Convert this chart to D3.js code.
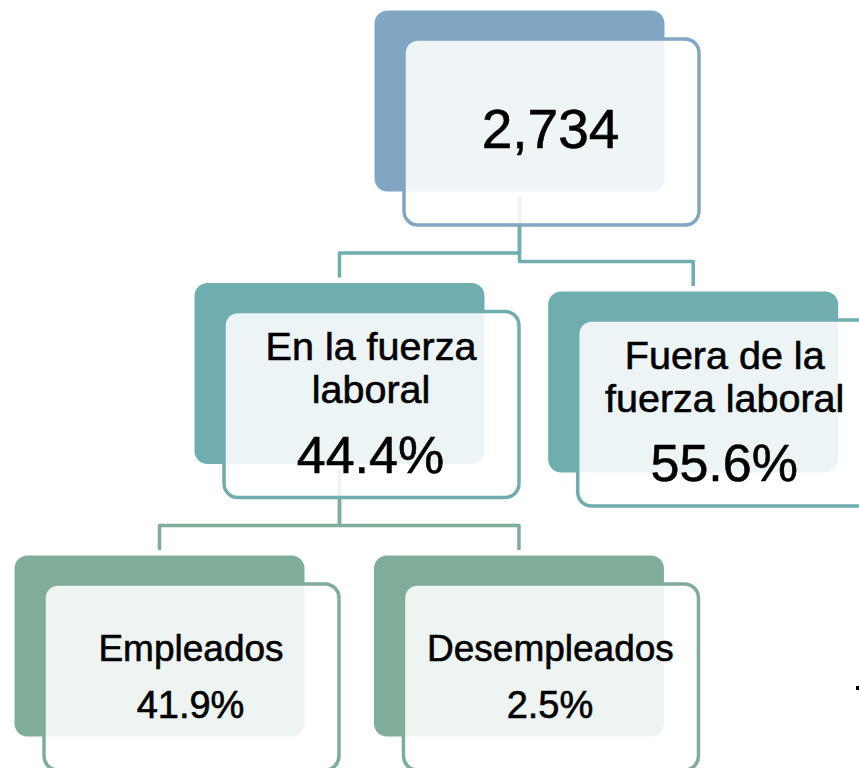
<!DOCTYPE html>
<html>
<head>
<meta charset="utf-8">
<script src="https://cdn.jsdelivr.net/npm/d3@7"></script>
<style>
  html, body { margin: 0; padding: 0; background: #ffffff; overflow: hidden; }
  svg { display: block; }
</style>
</head>
<body>
<svg id="chart" width="859" height="768"></svg>
<script>
// ---- data ----
const nodeIds     = ["total", "fuerza", "fuera", "empleados", "desempleados"];
const nodeParents = [null, "total", "total", "fuerza", "fuerza"];
const nodeLabels  = [[], ["En la fuerza", "laboral"], ["Fuera de la", "fuerza laboral"], ["Empleados"], ["Desempleados"]];
const nodeValues  = ["2,734", "44.4%", "55.6%", "41.9%", "2.5%"];

// ---- layout (positions / styles, kept apart from the data) ----
const layoutCol   = { total: 2, fuerza: 1, fuera: 2.965, empleados: 0, desempleados: 1.997 };
const layoutDy    = { total: 0, fuerza: 0, fuera: 8.5, empleados: 0, desempleados: 0 };
const levelColor  = ["#80a6c3", "#6fadaf", "#7fad9a"];
const backW = 290, backH = 181, frontW = 295, frontH = 186;
const frontDx = 29.5, frontDy = 28.5;

const rows = nodeIds.map((id, i) => ({
  id, parent: nodeParents[i], labels: nodeLabels[i], value: nodeValues[i]
}));
const root = d3.stratify().id(d => d.id).parentId(d => d.parent)(rows);
const nodes = root.descendants();

const x = d3.scaleLinear().domain([0, 1]).range([159.5, 339.5]);   // column -> back-box centre
const y = d3.scaleLinear().domain([0, 1]).range([10.5, 283]);      // depth  -> back-box top

nodes.forEach(n => {
  n.cx = x(layoutCol[n.id]);
  n.top = y(n.depth) + layoutDy[n.id];
  n.bx = n.cx - backW / 2;
  n.fx = n.bx + frontDx;
  n.fy = n.top + frontDy;
  n.fcx = n.fx + frontW / 2;
});

const svg = d3.select("#chart");
const font = "'Liberation Sans', Arial, Helvetica, sans-serif";

// connectors
svg.append("g").selectAll("path").data(root.links()).join("path")
  .attr("d", l => {
    const sx = l.source.cx, sy = l.source.top + backH + 5.5;
    const tx = l.target.cx, ty = l.target.top - 5.5;
    const my = l.target.top - 30;
    return d3.line()([[sx, sy], [sx, my], [tx, my], [tx, ty]]);
  })
  .attr("fill", "none")
  .attr("stroke", l => levelColor[l.target.depth])
  .attr("stroke-width", 3.5)
  .attr("stroke-linejoin", "round");

// back boxes
svg.append("g").selectAll("rect").data(nodes).join("rect")
  .attr("x", d => d.bx).attr("y", d => d.top)
  .attr("width", backW).attr("height", backH)
  .attr("rx", 13).attr("ry", 13)
  .attr("fill", d => levelColor[d.depth]);

// front boxes
svg.append("g").selectAll("rect").data(nodes).join("rect")
  .attr("x", d => d.fx).attr("y", d => d.fy)
  .attr("width", frontW).attr("height", frontH)
  .attr("rx", 14).attr("ry", 14)
  .attr("fill", "#ffffff").attr("fill-opacity", 0.87)
  .attr("stroke", d => levelColor[d.depth])
  .attr("stroke-width", 3.5);

// texts
const textStyle = [
  { labelY: [], labelSize: 0, valueY: 137.5, valueSize: 55 },
  { labelY: [77, 120], labelSize: 39.5, valueY: 189.5, valueSize: 52 },
  { labelY: [105], labelSize: 37, valueY: 162.5, valueSize: 38 }
];
const tg = svg.append("g").attr("font-family", font).attr("fill", "#000")
  .attr("stroke", "#000").attr("stroke-width", 0.6).attr("text-anchor", "middle");
nodes.forEach(n => {
  const st = textStyle[n.depth];
  n.data.labels.forEach((t, i) => {
    tg.append("text")
      .attr("x", n.fcx - 0.5)
      .attr("y", n.top + st.labelY[i])
      .attr("font-size", st.labelSize)
      .text(t);
  });
  tg.append("text")
    .attr("x", n.fcx - 1)
    .attr("y", n.top + st.valueY)
    .attr("font-size", st.valueSize)
    .text(n.data.value);
});

// small stray mark at the right edge
svg.append("rect").attr("x", 856).attr("y", 686).attr("width", 3).attr("height", 4).attr("fill", "#000");
</script>
</body>
</html>
